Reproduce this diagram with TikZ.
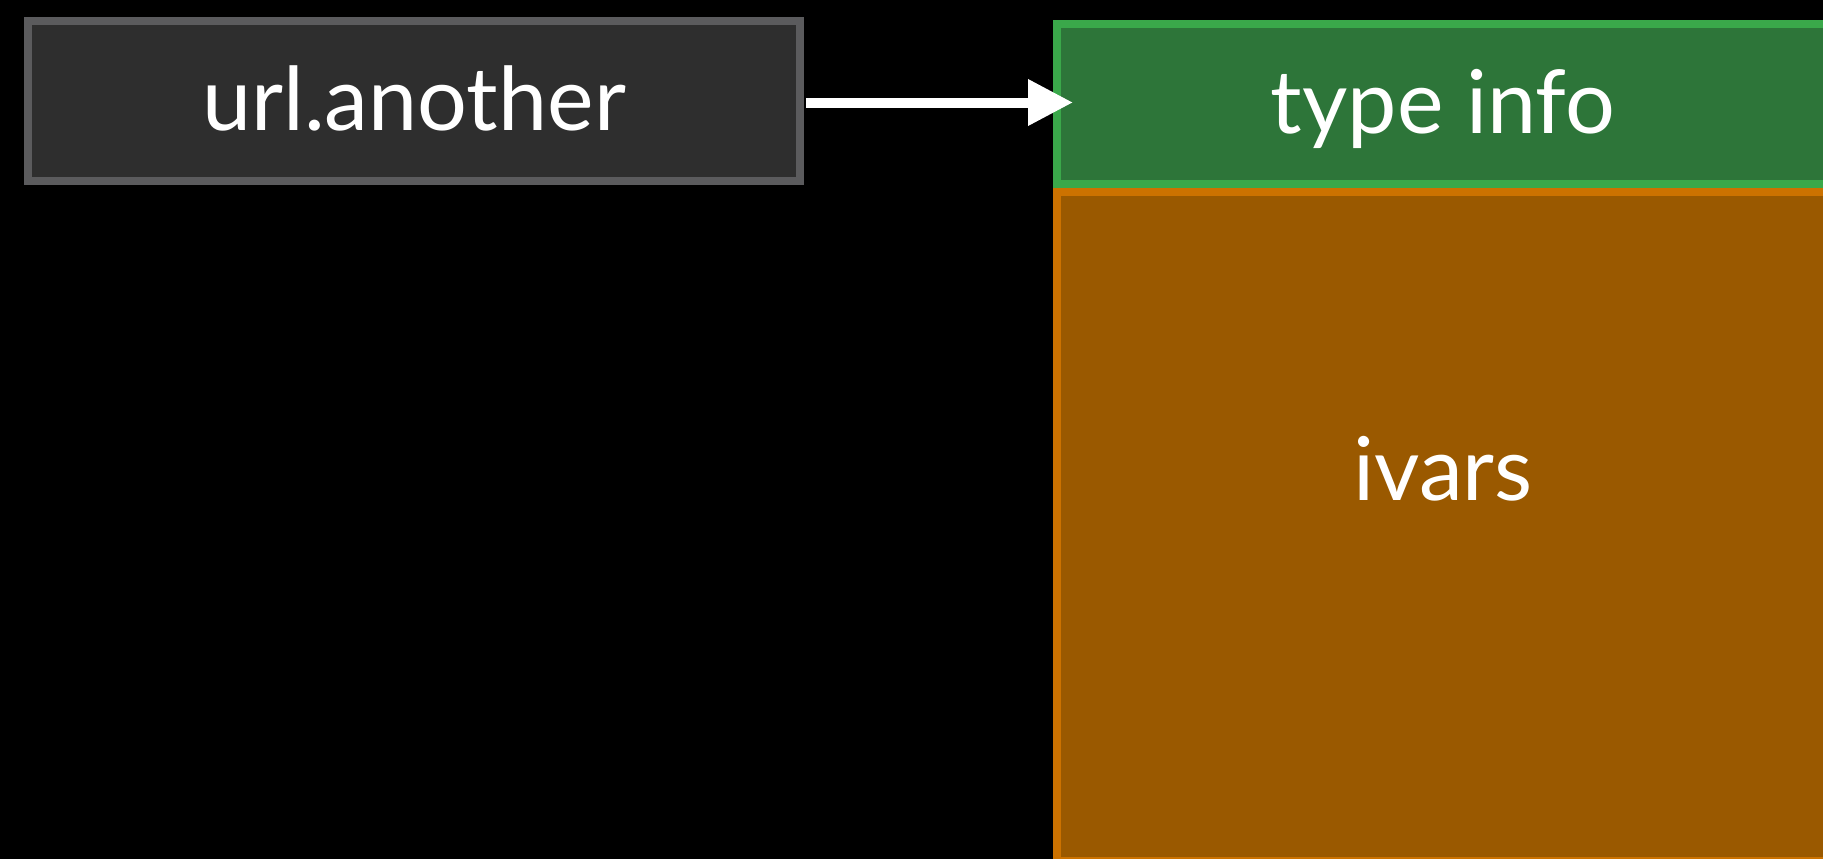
\documentclass[tikz,border=0pt]{standalone}
\usepackage{fontspec}
\setmainfont{Lato}
\usetikzlibrary{arrows.meta}
\definecolor{bgc}{HTML}{000000}
\definecolor{gfill}{HTML}{2E2E2E}
\definecolor{gline}{HTML}{5B5B5D}
\definecolor{tfill}{HTML}{2D7539}
\definecolor{tline}{HTML}{3AA84A}
\definecolor{ofill}{HTML}{9A5900}
\definecolor{oline}{HTML}{CC7200}
\tikzset{
  box/.style={draw, line width=8pt, inner sep=0pt, minimum width=772pt},
  lbl/.style={text=white, font=\fontsize{88}{100}\selectfont, inner sep=0pt, anchor=base},
  conn/.style={draw=white, line width=10pt, -{Triangle[length=45pt,width=44pt]}}
}
\begin{document}
\begin{tikzpicture}[x=1pt,y=-1pt]
\fill[bgc] (0,0) rectangle (1823,859);
\useasboundingbox (0,0) rectangle (1823,859);
\node[box, fill=ofill, draw=oline, minimum height=669pt] (ivars) at (1443,526.5) {};
\node[box, fill=tfill, draw=tline, minimum height=160pt] (type) at (1443,104) {};
\coordinate (tip) at (1073,102.5);
\node[box, fill=gfill, draw=gline, minimum height=160pt] (url) at (414,101) {};
\draw[conn] ([xshift=2pt,yshift=-1.5pt]url.east) -- (tip);
\node[lbl] (urlt) at (414,130) {url.another};
\node[lbl] (typet) at (1443,133) {type info};
\node[lbl] (ivarst) at (1443,500) {ivars};
\end{tikzpicture}
\end{document}
